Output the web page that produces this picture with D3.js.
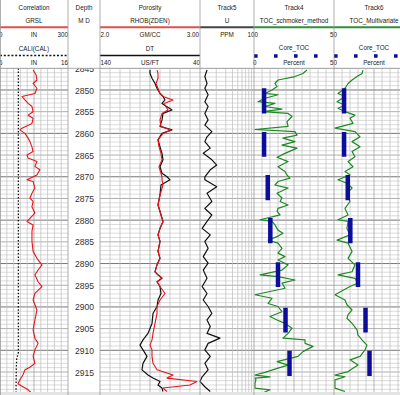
<!DOCTYPE html>
<html>
<head>
<meta charset="utf-8">
<script src="https://cdn.jsdelivr.net/npm/d3@7"></script>
<style>
body { margin: 0; background: #fff; }
svg { display: block; font-family: "Liberation Sans", Arial, sans-serif; }
</style>
</head>
<body>
<div id="chart"></div>
<script>
// depth window and labels
const depthRange = [2845, 2920.3]
const depthTicks = [2845, 2850, 2855, 2860, 2865, 2870, 2875, 2880, 2885, 2890, 2895, 2900, 2905, 2910, 2915]

// GRSL (API), track 1
const grDepth = [2845.4, 2846.5, 2847.7, 2848.5, 2849.6, 2850.8, 2851.5, 2852.3, 2853.1, 2853.8, 2855.0, 2855.8, 2856.5, 2857.7, 2858.8, 2859.2, 2860.0, 2861.1, 2861.9, 2863.1, 2864.2, 2865.0, 2865.7, 2866.5, 2867.6, 2868.4, 2869.6, 2870.7, 2871.1, 2872.6, 2873.8, 2874.9, 2875.7, 2876.9, 2878.4, 2879.6, 2880.3, 2881.1, 2882.6, 2884.9, 2887.2, 2888.8, 2890.3, 2891.5, 2892.6, 2894.2, 2895.3, 2896.9, 2898.4, 2900.7, 2903.0, 2905.3, 2907.2, 2908.4, 2909.9, 2911.4, 2913.0, 2913.9, 2914.5, 2915.7, 2916.8, 2917.7, 2918.4, 2919.1, 2919.9]
const grValues = [146, 159, 163, 146, 163, 154, 97, 110, 124, 141, 146, 124, 146, 141, 97, 88, 110, 124, 132, 141, 146, 119, 124, 163, 154, 176, 163, 119, 146, 154, 141, 132, 146, 141, 154, 132, 119, 146, 141, 141, 146, 163, 185, 168, 154, 168, 185, 154, 146, 163, 154, 146, 154, 168, 154, 146, 154, 132, 110, 101, 88, 79, 101, 124, 141]

// CALI (IN)
const caliDepth = [2845, 2880, 2910.5, 2912, 2914, 2920.3]
const caliValues = [8.7, 8.7, 8.7, 8.45, 8.4, 8.35]

// porosity track: RHOB (GM/CC) and DT (US/FT) on shared depths
const porDepth = [2845.4, 2846.2, 2847.3, 2848.5, 2849.6, 2850.8, 2851.5, 2852.3, 2853.1, 2854.6, 2855.4, 2856.9, 2858.4, 2859.2, 2860.0, 2861.5, 2863.1, 2864.6, 2866.1, 2867.7, 2869.2, 2870.0, 2870.7, 2871.9, 2874.2, 2876.5, 2878.0, 2880.3, 2881.9, 2883.4, 2884.9, 2887.2, 2888.8, 2890.3, 2891.9, 2892.6, 2893.4, 2894.2, 2895.3, 2896.9, 2898.4, 2899.9, 2901.5, 2903.8, 2906.1, 2907.6, 2908.8, 2909.9, 2911.4, 2913.0, 2914.5, 2915.7, 2916.4, 2917.2, 2918.0, 2918.7, 2919.5]
const rhobValues = [2.57, 2.58, 2.58, 2.56, 2.58, 2.60, 2.63, 2.73, 2.64, 2.68, 2.62, 2.60, 2.61, 2.71, 2.63, 2.58, 2.59, 2.61, 2.62, 2.59, 2.61, 2.62, 2.62, 2.63, 2.60, 2.58, 2.60, 2.63, 2.60, 2.58, 2.60, 2.58, 2.60, 2.57, 2.55, 2.58, 2.62, 2.57, 2.60, 2.65, 2.60, 2.57, 2.57, 2.55, 2.53, 2.52, 2.50, 2.52, 2.52, 2.53, 2.57, 2.73, 2.67, 2.97, 2.90, 2.63, 2.67]
const dtValues = [90, 90, 88, 85, 83, 80, 77, 75, 78, 68, 77, 78, 80, 68, 78, 82, 80, 78, 77, 80, 78, 73, 70, 79, 80, 82, 80, 77, 80, 82, 80, 82, 80, 83, 85, 82, 78, 83, 80, 79, 82, 83, 87, 88, 92, 97, 100, 97, 93, 97, 98, 92, 87, 80, 82, 78, 77]

// Track5: U (PPM)
const uDepth = [2845.4, 2846.9, 2848.5, 2849.6, 2851.1, 2852.7, 2853.8, 2855.4, 2856.9, 2858.1, 2859.6, 2860.8, 2861.9, 2863.4, 2864.6, 2866.1, 2867.3, 2868.4, 2870.0, 2870.7, 2872.3, 2873.8, 2875.7, 2877.3, 2878.8, 2880.3, 2881.9, 2883.4, 2884.9, 2886.5, 2888.4, 2889.9, 2891.5, 2893.4, 2895.3, 2896.9, 2898.4, 2899.9, 2901.5, 2903.0, 2904.5, 2906.1, 2907.2, 2908.4, 2909.9, 2911.4, 2913.0, 2914.5, 2916.1, 2917.2, 2918.4, 2919.5]
const uValues = [13, 9, 13, 9, 15, 9, 15, 9, 15, 9, 22, 13, 9, 19, 6, 22, 31, 19, 9, 9, 31, 13, 22, 9, 22, 13, 4, 19, 9, 15, 6, 15, 6, 13, 4, 13, 6, 15, 22, 13, 19, 13, 37, 15, 9, 19, 9, 15, 4, 0, 9, 19]

// Track4: TOC_schmoker_method (%)
const tocSchDepth = [2845.4, 2846.2, 2846.9, 2847.7, 2848.5, 2849.2, 2850.0, 2850.8, 2851.1, 2851.9, 2852.7, 2853.1, 2853.8, 2854.4, 2855.0, 2855.4, 2856.1, 2857.3, 2858.4, 2859.1, 2859.6, 2860.4, 2861.1, 2861.9, 2862.7, 2863.4, 2864.6, 2865.5, 2866.5, 2867.7, 2868.8, 2869.6, 2870.3, 2871.1, 2871.9, 2872.6, 2873.8, 2874.9, 2875.7, 2876.5, 2877.3, 2878.0, 2878.8, 2879.9, 2880.3, 2881.1, 2882.3, 2883.0, 2883.8, 2884.6, 2885.3, 2886.5, 2887.6, 2888.4, 2889.2, 2890.3, 2891.5, 2892.6, 2893.0, 2893.8, 2894.5, 2895.7, 2897.2, 2898.0, 2899.2, 2899.9, 2901.1, 2902.2, 2903.0, 2903.8, 2904.9, 2906.1, 2907.2, 2907.6, 2908.4, 2909.1, 2910.3, 2911.4, 2912.6, 2913.4, 2914.1, 2915.1, 2915.7, 2916.1, 2916.4, 2916.8, 2917.6, 2918.7, 2919.1, 2919.9]
const tocSchValues = [33.1, 30.6, 25.6, 15, 13.1, 14.4, 11.3, 6.9, 15, 6.9, 2.5, 13.1, 6.9, 17.5, 5.6, 21.3, 23.8, 20.6, 21.3, 0.6, 25.6, 26.9, 18.1, 25.6, 17.5, 26.9, 19.4, 14.4, 21.3, 15, 19.4, 20.6, 22.5, 15, 13.1, 21.3, 14.4, 17.5, 16.3, 21.3, 15, 14.4, 16.3, 3.8, 11.3, 13.1, 15, 18.1, 14.4, 8.8, 15, 17.5, 15, 19.4, 15, 21.3, 17.5, 3.8, 15, 25.6, 17.5, 19.4, 0.6, 11.3, 8.8, 15, 17.5, 10, 14.4, 19.4, 23.8, 21.3, 18.1, 31.9, 31.9, 36.9, 30.6, 27.5, 14.4, 21.3, 15, 6.9, 0.6, 10, 0.6, 1.2, 0.6, 0.6, 10, 5]

// Track6: TOC_Multivariate (%)
const tocMvDepth = [2845.4, 2846.2, 2846.9, 2847.7, 2848.5, 2849.6, 2850.8, 2851.5, 2852.7, 2853.5, 2854.2, 2855.0, 2855.8, 2856.5, 2857.7, 2858.8, 2859.6, 2860.8, 2861.9, 2863.1, 2864.2, 2865.4, 2866.5, 2867.7, 2868.8, 2869.6, 2870.7, 2871.5, 2872.6, 2873.8, 2875.7, 2877.3, 2878.8, 2879.9, 2880.3, 2881.9, 2883.4, 2884.6, 2885.3, 2887.2, 2888.8, 2890.3, 2891.9, 2892.6, 2893.4, 2894.5, 2895.3, 2897.2, 2898.4, 2899.5, 2900.7, 2901.8, 2902.6, 2903.8, 2905.3, 2906.5, 2907.6, 2908.8, 2909.9, 2911.4, 2912.2, 2913.4, 2914.9, 2915.7, 2916.1, 2916.8, 2918.7, 2919.5]
const tocMvValues = [18.1, 17.5, 14.4, 11.3, 8.8, 6.9, 2.5, 6.9, 1.9, 6.9, 2.5, 6.9, 13.1, 10, 11.9, 0.6, 13.1, 16.3, 11.3, 16.3, 11.3, 13.1, 8.8, 11.9, 6.9, 10, 2.5, 8.1, 11.3, 8.1, 10, 6.9, 8.8, 2.5, 8.8, 8.1, 10, 1.9, 8.8, 11.3, 8.8, 13.1, 11.3, 2.5, 13.1, 15, 10, 0.6, 6.9, 8.1, 11.3, 8.8, 8.1, 11.3, 14.4, 15, 17.5, 20.6, 19.4, 16.3, 10, 15, 8.8, 0.6, 6.9, 0.6, 0.6, 6.9]

// Core_TOC (%) sample intervals
const coreTop = [2849.6, 2859.7, 2869.6, 2879.5, 2889.7, 2900.2, 2910.1]
const coreBase = [2855.4, 2865.4, 2875.4, 2885.3, 2895.4, 2905.9, 2915.9]
const coreToc = [6.3, 6.3, 8.6, 10.2, 15, 19.7, 22.2]

const W = 400, H = 395
const headerH = 68.3
const tracks = { t1: [0, 68], depth: [68, 100], por: [100, 200], t5: [200, 254], t4: [254, 334], t6: [334, 414] }

const red = "#e5141b", green = "#1d8a22", blue = "#0d0d9c"

const svg = d3.select("#chart").append("svg").attr("width", W).attr("height", H)

const y = d3.scaleLinear().domain(depthRange).range([headerH, H])
const grX = d3.scaleLinear().domain([0, 300]).range(tracks.t1)
const caliX = d3.scaleLinear().domain([6, 16]).range(tracks.t1)
const rhobX = d3.scaleLinear().domain([2, 3]).range(tracks.por)
const dtX = d3.scaleLinear().domain([140, 40]).range(tracks.por)
const uX = d3.scaleLinear().domain([0, 100]).range(tracks.t5)
const sch4X = d3.scaleLinear().domain([0, 50]).range(tracks.t4)
const mv6X = d3.scaleLinear().domain([0, 50]).range(tracks.t6)
const uGrid = d3.scaleLog().domain([1, 10]).range(tracks.t5)

svg.append("defs").append("clipPath").attr("id", "data-clip")
    .append("rect").attr("x", 0).attr("y", headerH).attr("width", W).attr("height", H - headerH)

const body = svg.append("g").attr("clip-path", "url(#data-clip)")

// grid
const grid = body.append("g")
const gridTracks = [tracks.t1, tracks.por, tracks.t5, tracks.t4, tracks.t6]
const ftLines = d3.range(2845, 2921, 1)
gridTracks.forEach((t) => {
    grid.append("g").selectAll("line").data(ftLines).enter().append("line")
        .attr("x1", t[0]).attr("x2", t[1])
        .attr("y1", (d) => y(d)).attr("y2", (d) => y(d))
        .attr("stroke", (d) => d % 10 === 0 ? "#666" : d % 5 === 0 ? "#8c8c8c" : "#cbcbcb")
        .attr("stroke-width", (d) => d % 10 === 0 ? 0.9 : 0.7)
})
const linX = [tracks.t1, tracks.por, tracks.t4, tracks.t6]
linX.forEach((t) => {
    const s = d3.scaleLinear().domain([0, 10]).range(t)
    grid.append("g").selectAll("line").data(d3.range(1, 10)).enter().append("line")
        .attr("x1", (d) => s(d)).attr("x2", (d) => s(d))
        .attr("y1", headerH).attr("y2", H)
        .attr("stroke", (d) => d === 5 ? "#999" : "#bdbdbd")
        .attr("stroke-width", 0.7)
})
grid.append("g").selectAll("line").data(d3.range(2, 10)).enter().append("line")
    .attr("x1", (d) => uGrid(d)).attr("x2", (d) => uGrid(d))
    .attr("y1", headerH).attr("y2", H)
    .attr("stroke", "#bdbdbd").attr("stroke-width", 0.7)

// depth labels
const depthAxis = body.append("g")
    .attr("transform", "translate(" + (tracks.depth[0] + 16.5) + ",0)")
    .call(d3.axisLeft(y).tickValues(depthTicks).tickSize(0).tickFormat(d3.format("d")))
depthAxis.select(".domain").remove()
depthAxis.selectAll("text")
    .attr("x", 0).attr("dy", "0.35em")
    .attr("text-anchor", "middle")
    .attr("font-family", "Liberation Sans, Arial, sans-serif")
    .attr("font-size", 8.6).attr("fill", "#333")

// curves
const drawCurve = (depths, values, xs, colour, width, dash) => {
    const line = d3.line().x((d, i) => xs(values[i])).y((d) => y(d))
    body.append("path").datum(depths)
        .attr("d", line).attr("fill", "none")
        .attr("stroke", colour).attr("stroke-width", width)
        .attr("stroke-linejoin", "round")
        .attr("stroke-dasharray", dash || null)
}
drawCurve(caliDepth, caliValues, caliX, "#111", 1.3, "1.5,1.8")
drawCurve(grDepth, grValues, grX, red, 1.1)
drawCurve(porDepth, dtValues, dtX, "#111", 1.2)
drawCurve(porDepth, rhobValues, rhobX, red, 1.1)
drawCurve(uDepth, uValues, uX, "#111", 1.2)
drawCurve(tocSchDepth, tocSchValues, sch4X, green, 1.2)
drawCurve(tocMvDepth, tocMvValues, mv6X, green, 1.2)

// core bars
;[sch4X, mv6X].forEach((xs) => {
    body.append("g").selectAll("line").data(coreToc).enter().append("line")
        .attr("x1", (d) => xs(d)).attr("x2", (d) => xs(d))
        .attr("y1", (d, i) => y(coreTop[i])).attr("y2", (d, i) => y(coreBase[i]))
        .attr("stroke", blue).attr("stroke-width", 4.5)
})

// bottom band
svg.append("rect").attr("x", 0).attr("y", 392).attr("width", W).attr("height", 3).attr("fill", "#e4e4e4")

// header
const head = svg.append("g").attr("font-size", 6.3).attr("fill", "#222")
const txt = (x, yy, s, anchor) => head.append("text").attr("x", x).attr("y", yy)
    .attr("text-anchor", anchor || "middle").text(s)
const hline = (t, yy, colour, width, dash) => head.append("line")
    .attr("x1", t[0]).attr("x2", t[1]).attr("y1", yy).attr("y2", yy)
    .attr("stroke", colour).attr("stroke-width", width)
    .attr("stroke-dasharray", dash || null)
const mid = (t) => (t[0] + t[1]) / 2

txt(mid(tracks.t1), 10, "Correlation")
txt(mid(tracks.t1), 23, "GRSL")
hline(tracks.t1, 27.3, "#e0504a", 2)
txt(-1, 37, "0", "start"); txt(mid(tracks.t1), 37, "IN"); txt(68, 37, "300", "end")
txt(mid(tracks.t1), 50.5, "CALI(CAL)")
hline(tracks.t1, 55.5, "#111", 1.6, "2,1.8")
txt(-1, 65, "6", "start"); txt(mid(tracks.t1), 65, "IN"); txt(68, 65, "16", "end")

txt(mid(tracks.depth), 10, "Depth")
txt(mid(tracks.depth), 23, "M D")

txt(mid(tracks.por), 10, "Porosity")
txt(mid(tracks.por), 23, "RHOB(ZDEN)")
hline(tracks.por, 27.3, "#e0504a", 2)
txt(100.5, 37, "2.0", "start"); txt(mid(tracks.por), 37, "GM/CC"); txt(199, 37, "3.00", "end")
txt(mid(tracks.por), 50.5, "DT")
hline(tracks.por, 55.5, "#111", 1.6)
txt(100.5, 65, "140", "start"); txt(mid(tracks.por), 65, "US/FT"); txt(200, 65, "40", "end")

txt(mid(tracks.t5), 10, "Track5")
txt(mid(tracks.t5), 23, "U")
hline(tracks.t5, 27.3, "#444", 2)
txt(mid(tracks.t5), 37, "PPM"); txt(258, 37, "100", "end")

txt(mid(tracks.t4), 10, "Track4")
txt(mid(tracks.t4), 23, "TOC_schmoker_method")
hline(tracks.t4, 27.3, "#2f8f3a", 2)
txt(337, 37, "50", "end")
txt(mid(tracks.t4), 50, "Core_TOC")
hline(tracks.t4, 56, blue, 3.6, "3.6,16.4")
txt(253, 65, "0", "start"); txt(mid(tracks.t4), 65, "Percent"); txt(337, 65, "50", "end")

txt(mid(tracks.t6), 10, "Track6")
txt(mid(tracks.t6), 23, "TOC_Multivariate")
hline(tracks.t6, 27.3, "#2f8f3a", 2)
txt(mid(tracks.t6), 50, "Core_TOC")
hline(tracks.t6, 56, blue, 3.6, "3.6,16.4")
txt(mid(tracks.t6), 65, "Percent")

// borders
svg.append("line").attr("x1", 0).attr("x2", W).attr("y1", headerH).attr("y2", headerH)
    .attr("stroke", "#999").attr("stroke-width", 0.8)
svg.append("g").selectAll("line").data([0.5, 68, 100, 200, 254, 334]).enter().append("line")
    .attr("x1", (d) => d).attr("x2", (d) => d).attr("y1", 0).attr("y2", H)
    .attr("stroke", "#9a9a9a").attr("stroke-width", 0.8)
</script>
</body>
</html>
